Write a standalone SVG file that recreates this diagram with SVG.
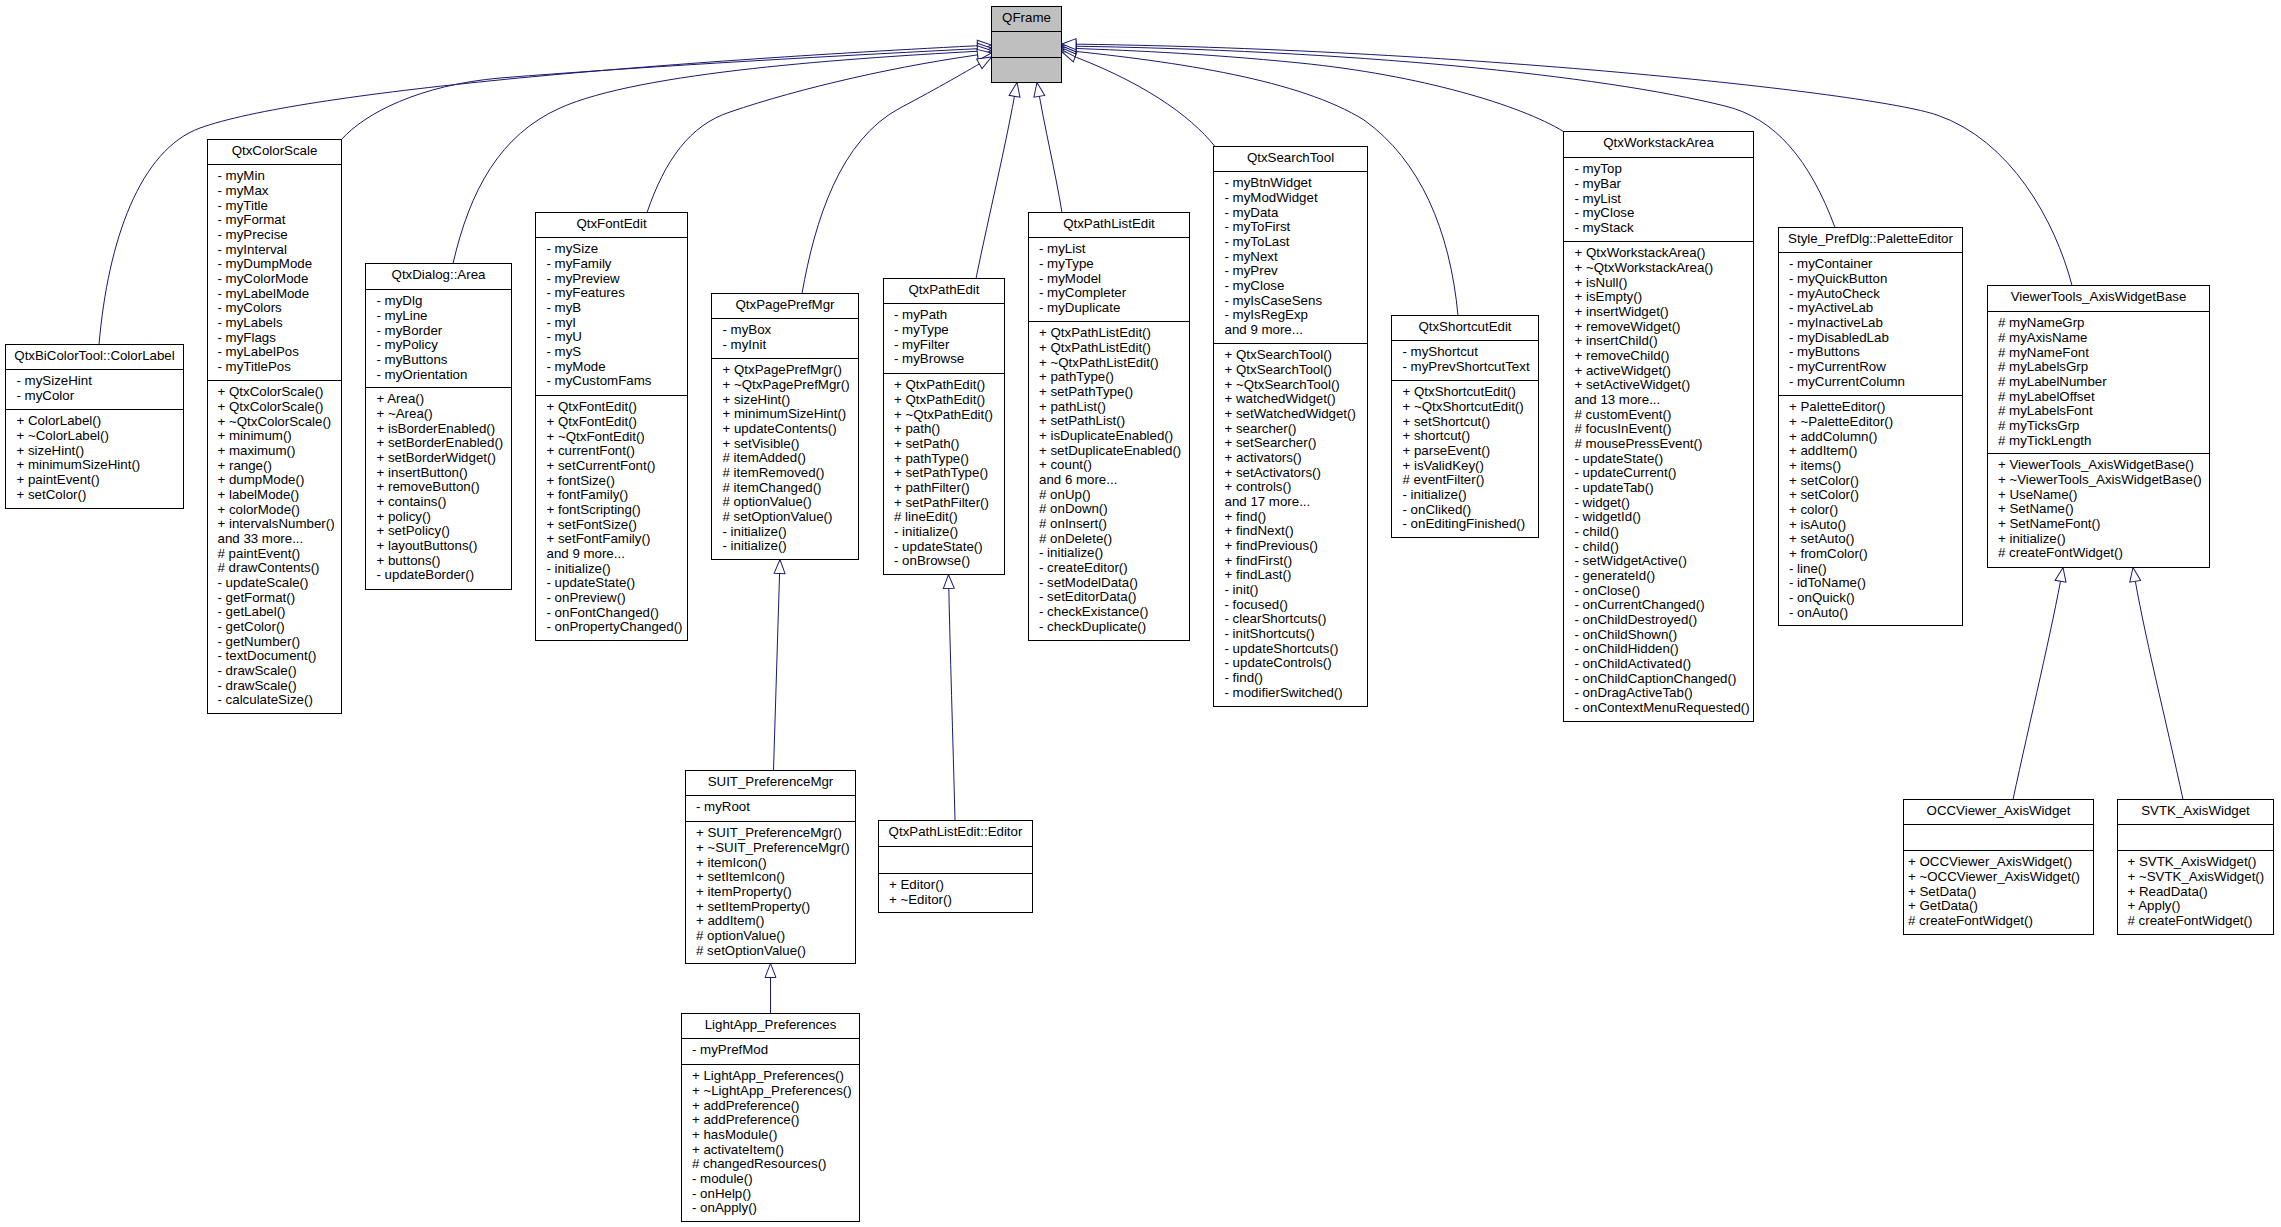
<svg xmlns="http://www.w3.org/2000/svg" width="2281" height="1227" viewBox="0 0 2281 1227">
<style>
.b{fill:#fff;stroke:#000;stroke-width:1}
.q{fill:#bfbfbf;stroke:#000;stroke-width:1}
.d{fill:none;stroke:#000;stroke-width:1}
text{font-family:"Liberation Sans",Arial,Helvetica,sans-serif;font-size:13.3px;fill:#000}
.c{text-anchor:middle}
.e{fill:none;stroke:#191970;stroke-width:1;marker-end:url(#h)}
</style>
<defs>
<marker id="h" viewBox="-1 -1 16 13" markerWidth="16" markerHeight="13" refX="14" refY="5.5" orient="auto" markerUnits="userSpaceOnUse"><path d="M0,0 L14,5.5 L0,11 Z" fill="#fff" stroke="#191970" stroke-width="1"/></marker>
</defs>
<rect width="2281" height="1227" fill="#fff"/>
<g id="connectors">
<path class="e" d="M99,344.5 C108,240 140,150 200,128 C300,92 650,62 991.5,45"/>
<path class="e" d="M341.5,139.5 C365,113 420,85 500,78 C650,66 850,55 991.5,48"/>
<path class="e" d="M453,263.5 C470,190 500,135 560,108 C640,72 850,58 991.5,50.5"/>
<path class="e" d="M647,212.5 C665,160 690,125 730,112 C800,88 900,65 991.5,53"/>
<path class="e" d="M802,293.5 C815,220 840,140 900,108 C940,87 965,72 991.5,57"/>
<path class="e" d="M976,278.5 C990,210 1005,150 1017,82.5"/>
<path class="e" d="M1062,212.5 C1055,170 1045,130 1037,82.5"/>
<path class="e" d="M1215,146.5 C1190,115 1140,80 1062,52"/>
<path class="e" d="M1458,315.5 C1450,230 1420,160 1364,120 C1300,80 1180,62 1062,50"/>
<path class="e" d="M1563.5,131.5 C1520,105 1420,75 1300,63 C1200,53 1120,50 1062,48"/>
<path class="e" d="M1835,227.5 C1810,160 1775,118 1725,106 C1600,75 1350,50 1062,46"/>
<path class="e" d="M2072,285.5 C2055,220 2010,140 1937,115 C1870,92 1450,48 1062,44"/>
<path class="e" d="M773.5,770.5 L780,559.5"/>
<path class="e" d="M770.5,1013.5 L770.5,963.5"/>
<path class="e" d="M955,820.5 C953,740 950,650 948.5,574.5"/>
<path class="e" d="M2013,799.5 C2030,720 2052,630 2063,567.5"/>
<path class="e" d="M2183,799.5 C2166,720 2143,630 2133,567.5"/>
</g>
<g id="QFrame"><rect class="q" x="991.5" y="6.5" width="70" height="76"/><path class="d" d="M991.5,31.5H1061.5M991.5,57.5H1061.5"/><text class="c" x="1026.5" y="22.3">QFrame</text></g>
<g id="ColorLabel"><rect class="b" x="5.5" y="344.5" width="178" height="164"/><path class="d" d="M5.5,369.5H183.5M5.5,409.5H183.5"/><text class="c" x="94.5" y="360.3">QtxBiColorTool::ColorLabel</text>
<text x="16.5" y="385.3"><tspan x="16.5">- mySizeHint</tspan><tspan x="16.5" dy="14.67">- myColor</tspan></text>
<text x="16.5" y="425.3"><tspan x="16.5">+ ColorLabel()</tspan><tspan x="16.5" dy="14.67">+ ~ColorLabel()</tspan><tspan x="16.5" dy="14.67">+ sizeHint()</tspan><tspan x="16.5" dy="14.67">+ minimumSizeHint()</tspan><tspan x="16.5" dy="14.67">+ paintEvent()</tspan><tspan x="16.5" dy="14.67">+ setColor()</tspan></text></g>
<g id="QtxColorScale"><rect class="b" x="207.5" y="139.5" width="134" height="574"/><path class="d" d="M207.5,164.5H341.5M207.5,380.5H341.5"/><text class="c" x="274.5" y="155.3">QtxColorScale</text>
<text x="217.5" y="180.3"><tspan x="217.5">- myMin</tspan><tspan x="217.5" dy="14.67">- myMax</tspan><tspan x="217.5" dy="14.67">- myTitle</tspan><tspan x="217.5" dy="14.67">- myFormat</tspan><tspan x="217.5" dy="14.67">- myPrecise</tspan><tspan x="217.5" dy="14.67">- myInterval</tspan><tspan x="217.5" dy="14.67">- myDumpMode</tspan><tspan x="217.5" dy="14.67">- myColorMode</tspan><tspan x="217.5" dy="14.67">- myLabelMode</tspan><tspan x="217.5" dy="14.67">- myColors</tspan><tspan x="217.5" dy="14.67">- myLabels</tspan><tspan x="217.5" dy="14.67">- myFlags</tspan><tspan x="217.5" dy="14.67">- myLabelPos</tspan><tspan x="217.5" dy="14.67">- myTitlePos</tspan></text>
<text x="217.5" y="396.3"><tspan x="217.5">+ QtxColorScale()</tspan><tspan x="217.5" dy="14.67">+ QtxColorScale()</tspan><tspan x="217.5" dy="14.67">+ ~QtxColorScale()</tspan><tspan x="217.5" dy="14.67">+ minimum()</tspan><tspan x="217.5" dy="14.67">+ maximum()</tspan><tspan x="217.5" dy="14.67">+ range()</tspan><tspan x="217.5" dy="14.67">+ dumpMode()</tspan><tspan x="217.5" dy="14.67">+ labelMode()</tspan><tspan x="217.5" dy="14.67">+ colorMode()</tspan><tspan x="217.5" dy="14.67">+ intervalsNumber()</tspan><tspan x="217.5" dy="14.67">and 33 more...</tspan><tspan x="217.5" dy="14.67"># paintEvent()</tspan><tspan x="217.5" dy="14.67"># drawContents()</tspan><tspan x="217.5" dy="14.67">- updateScale()</tspan><tspan x="217.5" dy="14.67">- getFormat()</tspan><tspan x="217.5" dy="14.67">- getLabel()</tspan><tspan x="217.5" dy="14.67">- getColor()</tspan><tspan x="217.5" dy="14.67">- getNumber()</tspan><tspan x="217.5" dy="14.67">- textDocument()</tspan><tspan x="217.5" dy="14.67">- drawScale()</tspan><tspan x="217.5" dy="14.67">- drawScale()</tspan><tspan x="217.5" dy="14.67">- calculateSize()</tspan></text></g>
<g id="QtxDialogArea"><rect class="b" x="365.5" y="263.5" width="146" height="326"/><path class="d" d="M365.5,289.5H511.5M365.5,387.5H511.5"/><text class="c" x="438.5" y="279.3">QtxDialog::Area</text>
<text x="376.5" y="305.3"><tspan x="376.5">- myDlg</tspan><tspan x="376.5" dy="14.67">- myLine</tspan><tspan x="376.5" dy="14.67">- myBorder</tspan><tspan x="376.5" dy="14.67">- myPolicy</tspan><tspan x="376.5" dy="14.67">- myButtons</tspan><tspan x="376.5" dy="14.67">- myOrientation</tspan></text>
<text x="376.5" y="403.3"><tspan x="376.5">+ Area()</tspan><tspan x="376.5" dy="14.67">+ ~Area()</tspan><tspan x="376.5" dy="14.67">+ isBorderEnabled()</tspan><tspan x="376.5" dy="14.67">+ setBorderEnabled()</tspan><tspan x="376.5" dy="14.67">+ setBorderWidget()</tspan><tspan x="376.5" dy="14.67">+ insertButton()</tspan><tspan x="376.5" dy="14.67">+ removeButton()</tspan><tspan x="376.5" dy="14.67">+ contains()</tspan><tspan x="376.5" dy="14.67">+ policy()</tspan><tspan x="376.5" dy="14.67">+ setPolicy()</tspan><tspan x="376.5" dy="14.67">+ layoutButtons()</tspan><tspan x="376.5" dy="14.67">+ buttons()</tspan><tspan x="376.5" dy="14.67">- updateBorder()</tspan></text></g>
<g id="QtxFontEdit"><rect class="b" x="535.5" y="212.5" width="152" height="428"/><path class="d" d="M535.5,237.5H687.5M535.5,395.5H687.5"/><text class="c" x="611.5" y="228.3">QtxFontEdit</text>
<text x="546.5" y="253.3"><tspan x="546.5">- mySize</tspan><tspan x="546.5" dy="14.67">- myFamily</tspan><tspan x="546.5" dy="14.67">- myPreview</tspan><tspan x="546.5" dy="14.67">- myFeatures</tspan><tspan x="546.5" dy="14.67">- myB</tspan><tspan x="546.5" dy="14.67">- myI</tspan><tspan x="546.5" dy="14.67">- myU</tspan><tspan x="546.5" dy="14.67">- myS</tspan><tspan x="546.5" dy="14.67">- myMode</tspan><tspan x="546.5" dy="14.67">- myCustomFams</tspan></text>
<text x="546.5" y="411.3"><tspan x="546.5">+ QtxFontEdit()</tspan><tspan x="546.5" dy="14.67">+ QtxFontEdit()</tspan><tspan x="546.5" dy="14.67">+ ~QtxFontEdit()</tspan><tspan x="546.5" dy="14.67">+ currentFont()</tspan><tspan x="546.5" dy="14.67">+ setCurrentFont()</tspan><tspan x="546.5" dy="14.67">+ fontSize()</tspan><tspan x="546.5" dy="14.67">+ fontFamily()</tspan><tspan x="546.5" dy="14.67">+ fontScripting()</tspan><tspan x="546.5" dy="14.67">+ setFontSize()</tspan><tspan x="546.5" dy="14.67">+ setFontFamily()</tspan><tspan x="546.5" dy="14.67">and 9 more...</tspan><tspan x="546.5" dy="14.67">- initialize()</tspan><tspan x="546.5" dy="14.67">- updateState()</tspan><tspan x="546.5" dy="14.67">- onPreview()</tspan><tspan x="546.5" dy="14.67">- onFontChanged()</tspan><tspan x="546.5" dy="14.67">- onPropertyChanged()</tspan></text></g>
<g id="QtxPagePrefMgr"><rect class="b" x="711.5" y="293.5" width="147" height="266"/><path class="d" d="M711.5,318.5H858.5M711.5,358.5H858.5"/><text class="c" x="785" y="309.3">QtxPagePrefMgr</text>
<text x="722.5" y="334.3"><tspan x="722.5">- myBox</tspan><tspan x="722.5" dy="14.67">- myInit</tspan></text>
<text x="722.5" y="374.3"><tspan x="722.5">+ QtxPagePrefMgr()</tspan><tspan x="722.5" dy="14.67">+ ~QtxPagePrefMgr()</tspan><tspan x="722.5" dy="14.67">+ sizeHint()</tspan><tspan x="722.5" dy="14.67">+ minimumSizeHint()</tspan><tspan x="722.5" dy="14.67">+ updateContents()</tspan><tspan x="722.5" dy="14.67">+ setVisible()</tspan><tspan x="722.5" dy="14.67"># itemAdded()</tspan><tspan x="722.5" dy="14.67"># itemRemoved()</tspan><tspan x="722.5" dy="14.67"># itemChanged()</tspan><tspan x="722.5" dy="14.67"># optionValue()</tspan><tspan x="722.5" dy="14.67"># setOptionValue()</tspan><tspan x="722.5" dy="14.67">- initialize()</tspan><tspan x="722.5" dy="14.67">- initialize()</tspan></text></g>
<g id="QtxPathEdit"><rect class="b" x="883.5" y="278.5" width="121" height="296"/><path class="d" d="M883.5,303.5H1004.5M883.5,373.5H1004.5"/><text class="c" x="944" y="294.3">QtxPathEdit</text>
<text x="894" y="319.3"><tspan x="894">- myPath</tspan><tspan x="894" dy="14.67">- myType</tspan><tspan x="894" dy="14.67">- myFilter</tspan><tspan x="894" dy="14.67">- myBrowse</tspan></text>
<text x="894" y="389.3"><tspan x="894">+ QtxPathEdit()</tspan><tspan x="894" dy="14.67">+ QtxPathEdit()</tspan><tspan x="894" dy="14.67">+ ~QtxPathEdit()</tspan><tspan x="894" dy="14.67">+ path()</tspan><tspan x="894" dy="14.67">+ setPath()</tspan><tspan x="894" dy="14.67">+ pathType()</tspan><tspan x="894" dy="14.67">+ setPathType()</tspan><tspan x="894" dy="14.67">+ pathFilter()</tspan><tspan x="894" dy="14.67">+ setPathFilter()</tspan><tspan x="894" dy="14.67"># lineEdit()</tspan><tspan x="894" dy="14.67">- initialize()</tspan><tspan x="894" dy="14.67">- updateState()</tspan><tspan x="894" dy="14.67">- onBrowse()</tspan></text></g>
<g id="QtxPathListEdit"><rect class="b" x="1028.5" y="212.5" width="161" height="428"/><path class="d" d="M1028.5,237.5H1189.5M1028.5,321.5H1189.5"/><text class="c" x="1109" y="228.3">QtxPathListEdit</text>
<text x="1039" y="253.3"><tspan x="1039">- myList</tspan><tspan x="1039" dy="14.67">- myType</tspan><tspan x="1039" dy="14.67">- myModel</tspan><tspan x="1039" dy="14.67">- myCompleter</tspan><tspan x="1039" dy="14.67">- myDuplicate</tspan></text>
<text x="1039" y="337.3"><tspan x="1039">+ QtxPathListEdit()</tspan><tspan x="1039" dy="14.67">+ QtxPathListEdit()</tspan><tspan x="1039" dy="14.67">+ ~QtxPathListEdit()</tspan><tspan x="1039" dy="14.67">+ pathType()</tspan><tspan x="1039" dy="14.67">+ setPathType()</tspan><tspan x="1039" dy="14.67">+ pathList()</tspan><tspan x="1039" dy="14.67">+ setPathList()</tspan><tspan x="1039" dy="14.67">+ isDuplicateEnabled()</tspan><tspan x="1039" dy="14.67">+ setDuplicateEnabled()</tspan><tspan x="1039" dy="14.67">+ count()</tspan><tspan x="1039" dy="14.67">and 6 more...</tspan><tspan x="1039" dy="14.67"># onUp()</tspan><tspan x="1039" dy="14.67"># onDown()</tspan><tspan x="1039" dy="14.67"># onInsert()</tspan><tspan x="1039" dy="14.67"># onDelete()</tspan><tspan x="1039" dy="14.67">- initialize()</tspan><tspan x="1039" dy="14.67">- createEditor()</tspan><tspan x="1039" dy="14.67">- setModelData()</tspan><tspan x="1039" dy="14.67">- setEditorData()</tspan><tspan x="1039" dy="14.67">- checkExistance()</tspan><tspan x="1039" dy="14.67">- checkDuplicate()</tspan></text></g>
<g id="QtxSearchTool"><rect class="b" x="1213.5" y="146.5" width="154" height="560"/><path class="d" d="M1213.5,171.5H1367.5M1213.5,343.5H1367.5"/><text class="c" x="1290.5" y="162.3">QtxSearchTool</text>
<text x="1224.5" y="187.3"><tspan x="1224.5">- myBtnWidget</tspan><tspan x="1224.5" dy="14.67">- myModWidget</tspan><tspan x="1224.5" dy="14.67">- myData</tspan><tspan x="1224.5" dy="14.67">- myToFirst</tspan><tspan x="1224.5" dy="14.67">- myToLast</tspan><tspan x="1224.5" dy="14.67">- myNext</tspan><tspan x="1224.5" dy="14.67">- myPrev</tspan><tspan x="1224.5" dy="14.67">- myClose</tspan><tspan x="1224.5" dy="14.67">- myIsCaseSens</tspan><tspan x="1224.5" dy="14.67">- myIsRegExp</tspan><tspan x="1224.5" dy="14.67">and 9 more...</tspan></text>
<text x="1224.5" y="359.3"><tspan x="1224.5">+ QtxSearchTool()</tspan><tspan x="1224.5" dy="14.67">+ QtxSearchTool()</tspan><tspan x="1224.5" dy="14.67">+ ~QtxSearchTool()</tspan><tspan x="1224.5" dy="14.67">+ watchedWidget()</tspan><tspan x="1224.5" dy="14.67">+ setWatchedWidget()</tspan><tspan x="1224.5" dy="14.67">+ searcher()</tspan><tspan x="1224.5" dy="14.67">+ setSearcher()</tspan><tspan x="1224.5" dy="14.67">+ activators()</tspan><tspan x="1224.5" dy="14.67">+ setActivators()</tspan><tspan x="1224.5" dy="14.67">+ controls()</tspan><tspan x="1224.5" dy="14.67">and 17 more...</tspan><tspan x="1224.5" dy="14.67">+ find()</tspan><tspan x="1224.5" dy="14.67">+ findNext()</tspan><tspan x="1224.5" dy="14.67">+ findPrevious()</tspan><tspan x="1224.5" dy="14.67">+ findFirst()</tspan><tspan x="1224.5" dy="14.67">+ findLast()</tspan><tspan x="1224.5" dy="14.67">- init()</tspan><tspan x="1224.5" dy="14.67">- focused()</tspan><tspan x="1224.5" dy="14.67">- clearShortcuts()</tspan><tspan x="1224.5" dy="14.67">- initShortcuts()</tspan><tspan x="1224.5" dy="14.67">- updateShortcuts()</tspan><tspan x="1224.5" dy="14.67">- updateControls()</tspan><tspan x="1224.5" dy="14.67">- find()</tspan><tspan x="1224.5" dy="14.67">- modifierSwitched()</tspan></text></g>
<g id="QtxShortcutEdit"><rect class="b" x="1391.5" y="315.5" width="147" height="222"/><path class="d" d="M1391.5,340.5H1538.5M1391.5,380.5H1538.5"/><text class="c" x="1465" y="331.3">QtxShortcutEdit</text>
<text x="1402.5" y="356.3"><tspan x="1402.5">- myShortcut</tspan><tspan x="1402.5" dy="14.67">- myPrevShortcutText</tspan></text>
<text x="1402.5" y="396.3"><tspan x="1402.5">+ QtxShortcutEdit()</tspan><tspan x="1402.5" dy="14.67">+ ~QtxShortcutEdit()</tspan><tspan x="1402.5" dy="14.67">+ setShortcut()</tspan><tspan x="1402.5" dy="14.67">+ shortcut()</tspan><tspan x="1402.5" dy="14.67">+ parseEvent()</tspan><tspan x="1402.5" dy="14.67">+ isValidKey()</tspan><tspan x="1402.5" dy="14.67"># eventFilter()</tspan><tspan x="1402.5" dy="14.67">- initialize()</tspan><tspan x="1402.5" dy="14.67">- onCliked()</tspan><tspan x="1402.5" dy="14.67">- onEditingFinished()</tspan></text></g>
<g id="QtxWorkstackArea"><rect class="b" x="1563.5" y="131.5" width="190" height="590"/><path class="d" d="M1563.5,157.5H1753.5M1563.5,241.5H1753.5"/><text class="c" x="1658.5" y="147.3">QtxWorkstackArea</text>
<text x="1574.5" y="173.3"><tspan x="1574.5">- myTop</tspan><tspan x="1574.5" dy="14.67">- myBar</tspan><tspan x="1574.5" dy="14.67">- myList</tspan><tspan x="1574.5" dy="14.67">- myClose</tspan><tspan x="1574.5" dy="14.67">- myStack</tspan></text>
<text x="1574.5" y="257.3"><tspan x="1574.5">+ QtxWorkstackArea()</tspan><tspan x="1574.5" dy="14.67">+ ~QtxWorkstackArea()</tspan><tspan x="1574.5" dy="14.67">+ isNull()</tspan><tspan x="1574.5" dy="14.67">+ isEmpty()</tspan><tspan x="1574.5" dy="14.67">+ insertWidget()</tspan><tspan x="1574.5" dy="14.67">+ removeWidget()</tspan><tspan x="1574.5" dy="14.67">+ insertChild()</tspan><tspan x="1574.5" dy="14.67">+ removeChild()</tspan><tspan x="1574.5" dy="14.67">+ activeWidget()</tspan><tspan x="1574.5" dy="14.67">+ setActiveWidget()</tspan><tspan x="1574.5" dy="14.67">and 13 more...</tspan><tspan x="1574.5" dy="14.67"># customEvent()</tspan><tspan x="1574.5" dy="14.67"># focusInEvent()</tspan><tspan x="1574.5" dy="14.67"># mousePressEvent()</tspan><tspan x="1574.5" dy="14.67">- updateState()</tspan><tspan x="1574.5" dy="14.67">- updateCurrent()</tspan><tspan x="1574.5" dy="14.67">- updateTab()</tspan><tspan x="1574.5" dy="14.67">- widget()</tspan><tspan x="1574.5" dy="14.67">- widgetId()</tspan><tspan x="1574.5" dy="14.67">- child()</tspan><tspan x="1574.5" dy="14.67">- child()</tspan><tspan x="1574.5" dy="14.67">- setWidgetActive()</tspan><tspan x="1574.5" dy="14.67">- generateId()</tspan><tspan x="1574.5" dy="14.67">- onClose()</tspan><tspan x="1574.5" dy="14.67">- onCurrentChanged()</tspan><tspan x="1574.5" dy="14.67">- onChildDestroyed()</tspan><tspan x="1574.5" dy="14.67">- onChildShown()</tspan><tspan x="1574.5" dy="14.67">- onChildHidden()</tspan><tspan x="1574.5" dy="14.67">- onChildActivated()</tspan><tspan x="1574.5" dy="14.67">- onChildCaptionChanged()</tspan><tspan x="1574.5" dy="14.67">- onDragActiveTab()</tspan><tspan x="1574.5" dy="14.67">- onContextMenuRequested()</tspan></text></g>
<g id="PaletteEditor"><rect class="b" x="1778.5" y="227.5" width="184" height="398"/><path class="d" d="M1778.5,252.5H1962.5M1778.5,395.5H1962.5"/><text class="c" x="1870.5" y="243.3">Style_PrefDlg::PaletteEditor</text>
<text x="1789" y="268.3"><tspan x="1789">- myContainer</tspan><tspan x="1789" dy="14.67">- myQuickButton</tspan><tspan x="1789" dy="14.67">- myAutoCheck</tspan><tspan x="1789" dy="14.67">- myActiveLab</tspan><tspan x="1789" dy="14.67">- myInactiveLab</tspan><tspan x="1789" dy="14.67">- myDisabledLab</tspan><tspan x="1789" dy="14.67">- myButtons</tspan><tspan x="1789" dy="14.67">- myCurrentRow</tspan><tspan x="1789" dy="14.67">- myCurrentColumn</tspan></text>
<text x="1789" y="411.3"><tspan x="1789">+ PaletteEditor()</tspan><tspan x="1789" dy="14.67">+ ~PaletteEditor()</tspan><tspan x="1789" dy="14.67">+ addColumn()</tspan><tspan x="1789" dy="14.67">+ addItem()</tspan><tspan x="1789" dy="14.67">+ items()</tspan><tspan x="1789" dy="14.67">+ setColor()</tspan><tspan x="1789" dy="14.67">+ setColor()</tspan><tspan x="1789" dy="14.67">+ color()</tspan><tspan x="1789" dy="14.67">+ isAuto()</tspan><tspan x="1789" dy="14.67">+ setAuto()</tspan><tspan x="1789" dy="14.67">+ fromColor()</tspan><tspan x="1789" dy="14.67">- line()</tspan><tspan x="1789" dy="14.67">- idToName()</tspan><tspan x="1789" dy="14.67">- onQuick()</tspan><tspan x="1789" dy="14.67">- onAuto()</tspan></text></g>
<g id="ViewerToolsAxisWidgetBase"><rect class="b" x="1987.5" y="285.5" width="222" height="282"/><path class="d" d="M1987.5,311.5H2209.5M1987.5,453.5H2209.5"/><text class="c" x="2098.5" y="301.3">ViewerTools_AxisWidgetBase</text>
<text x="1998" y="327.3"><tspan x="1998"># myNameGrp</tspan><tspan x="1998" dy="14.67"># myAxisName</tspan><tspan x="1998" dy="14.67"># myNameFont</tspan><tspan x="1998" dy="14.67"># myLabelsGrp</tspan><tspan x="1998" dy="14.67"># myLabelNumber</tspan><tspan x="1998" dy="14.67"># myLabelOffset</tspan><tspan x="1998" dy="14.67"># myLabelsFont</tspan><tspan x="1998" dy="14.67"># myTicksGrp</tspan><tspan x="1998" dy="14.67"># myTickLength</tspan></text>
<text x="1998" y="469.3"><tspan x="1998">+ ViewerTools_AxisWidgetBase()</tspan><tspan x="1998" dy="14.67">+ ~ViewerTools_AxisWidgetBase()</tspan><tspan x="1998" dy="14.67">+ UseName()</tspan><tspan x="1998" dy="14.67">+ SetName()</tspan><tspan x="1998" dy="14.67">+ SetNameFont()</tspan><tspan x="1998" dy="14.67">+ initialize()</tspan><tspan x="1998" dy="14.67"># createFontWidget()</tspan></text></g>
<g id="SUITPreferenceMgr"><rect class="b" x="685.5" y="770.5" width="170" height="193"/><path class="d" d="M685.5,795.5H855.5M685.5,821.5H855.5"/><text class="c" x="770.5" y="786.3">SUIT_PreferenceMgr</text>
<text x="696" y="811.3">- myRoot</text>
<text x="696" y="837.3"><tspan x="696">+ SUIT_PreferenceMgr()</tspan><tspan x="696" dy="14.67">+ ~SUIT_PreferenceMgr()</tspan><tspan x="696" dy="14.67">+ itemIcon()</tspan><tspan x="696" dy="14.67">+ setItemIcon()</tspan><tspan x="696" dy="14.67">+ itemProperty()</tspan><tspan x="696" dy="14.67">+ setItemProperty()</tspan><tspan x="696" dy="14.67">+ addItem()</tspan><tspan x="696" dy="14.67"># optionValue()</tspan><tspan x="696" dy="14.67"># setOptionValue()</tspan></text></g>
<g id="LightAppPreferences"><rect class="b" x="681.5" y="1013.5" width="178" height="208"/><path class="d" d="M681.5,1038.5H859.5M681.5,1064.5H859.5"/><text class="c" x="770.5" y="1029.3">LightApp_Preferences</text>
<text x="692" y="1054.3">- myPrefMod</text>
<text x="692" y="1080.3"><tspan x="692">+ LightApp_Preferences()</tspan><tspan x="692" dy="14.67">+ ~LightApp_Preferences()</tspan><tspan x="692" dy="14.67">+ addPreference()</tspan><tspan x="692" dy="14.67">+ addPreference()</tspan><tspan x="692" dy="14.67">+ hasModule()</tspan><tspan x="692" dy="14.67">+ activateItem()</tspan><tspan x="692" dy="14.67"># changedResources()</tspan><tspan x="692" dy="14.67">- module()</tspan><tspan x="692" dy="14.67">- onHelp()</tspan><tspan x="692" dy="14.67">- onApply()</tspan></text></g>
<g id="QtxPathListEditEditor"><rect class="b" x="878.5" y="820.5" width="154" height="92"/><path class="d" d="M878.5,846.5H1032.5M878.5,873.5H1032.5"/><text class="c" x="955.5" y="836.3">QtxPathListEdit::Editor</text>
<text x="889" y="889.3"><tspan x="889">+ Editor()</tspan><tspan x="889" dy="14.67">+ ~Editor()</tspan></text></g>
<g id="OCCViewerAxisWidget"><rect class="b" x="1903.5" y="799.5" width="190" height="135"/><path class="d" d="M1903.5,824.5H2093.5M1903.5,850.5H2093.5"/><text class="c" x="1998.5" y="815.3">OCCViewer_AxisWidget</text>
<text x="1908" y="866.3"><tspan x="1908">+ OCCViewer_AxisWidget()</tspan><tspan x="1908" dy="14.67">+ ~OCCViewer_AxisWidget()</tspan><tspan x="1908" dy="14.67">+ SetData()</tspan><tspan x="1908" dy="14.67">+ GetData()</tspan><tspan x="1908" dy="14.67"># createFontWidget()</tspan></text></g>
<g id="SVTKAxisWidget"><rect class="b" x="2117.5" y="799.5" width="156" height="135"/><path class="d" d="M2117.5,824.5H2273.5M2117.5,850.5H2273.5"/><text class="c" x="2195.5" y="815.3">SVTK_AxisWidget</text>
<text x="2127.5" y="866.3"><tspan x="2127.5">+ SVTK_AxisWidget()</tspan><tspan x="2127.5" dy="14.67">+ ~SVTK_AxisWidget()</tspan><tspan x="2127.5" dy="14.67">+ ReadData()</tspan><tspan x="2127.5" dy="14.67">+ Apply()</tspan><tspan x="2127.5" dy="14.67"># createFontWidget()</tspan></text></g>
</svg>
